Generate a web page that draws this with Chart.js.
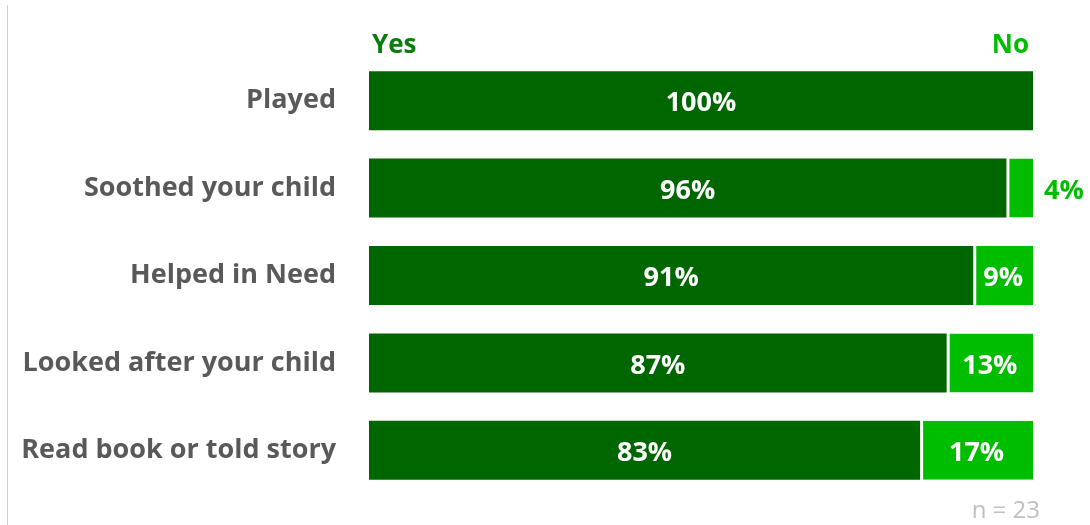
<!DOCTYPE html>
<html>
<head>
<meta charset="utf-8">
<script src="https://cdn.jsdelivr.net/npm/chart.js@4/dist/chart.umd.min.js"></script>
<style>
  html, body { margin: 0; padding: 0; background: #fff; }
  #wrap { position: relative; width: 1090px; height: 525px; }
  #chart { display: block; }
  #leftRule { position: absolute; left: 7px; top: 5px; width: 1px; height: 520px; background: #d0d0d0; }
</style>
</head>
<body>
<div id="wrap">
  <div id="leftRule"></div>
  <canvas id="chart" width="1090" height="525"></canvas>
</div>
<script>
// Chart data
const categories = ['Played', 'Soothed your child', 'Helped in Need', 'Looked after your child', 'Read book or told story'];
const yesValues = [100, 96, 91, 87, 83];
const noValues = [0, 4, 9, 13, 17];
const seriesNames = ['Yes', 'No'];
const sampleNote = 'n = 23';

const colors = {
  yes: '#006600',
  no: '#00bd00',
  yesHeader: '#0b7d0b',
  label: '#595959',
  note: '#bfbfbf'
};
const fontFamily = '"Open Sans", Lato, sans-serif';

// draws percentages on the bars plus the Yes / No headers and the n note
const labelsPlugin = {
  id: 'barLabels',
  afterDatasetsDraw(chart) {
    const { ctx, chartArea } = chart;
    ctx.save();
    ctx.font = 'bold 27px ' + fontFamily;
    ctx.textBaseline = 'middle';
    chart.data.datasets.forEach((ds, di) => {
      const meta = chart.getDatasetMeta(di);
      meta.data.forEach((bar, i) => {
        const v = ds.data[i];
        if (!v) return;
        const w = Math.abs(bar.x - bar.base);
        const text = v + '%';
        if (w < 40) {
          ctx.fillStyle = colors.no;
          ctx.textAlign = 'left';
          ctx.fillText(text, bar.x + 11, bar.y + 3);
        } else {
          ctx.fillStyle = '#ffffff';
          ctx.textAlign = 'center';
          ctx.fillText(text, (bar.x + bar.base) / 2, bar.y + 3);
        }
      });
    });

    ctx.font = 'bold 26px ' + fontFamily;
    ctx.textBaseline = 'alphabetic';
    ctx.fillStyle = colors.yesHeader;
    ctx.textAlign = 'left';
    ctx.fillText(seriesNames[0], chartArea.left + 3, 53);
    ctx.fillStyle = colors.no;
    ctx.textAlign = 'right';
    ctx.fillText(seriesNames[1], chartArea.right - 4, 53);

    ctx.font = '24px ' + fontFamily;
    ctx.fillStyle = colors.note;
    ctx.textAlign = 'right';
    ctx.fillText(sampleNote, chartArea.right + 7, 518);
    ctx.restore();
  }
};

new Chart(document.getElementById('chart'), {
  type: 'bar',
  data: {
    labels: categories,
    datasets: [
      {
        label: seriesNames[0],
        data: yesValues,
        backgroundColor: colors.yes,
        borderWidth: 0,
        barPercentage: 0.675,
        categoryPercentage: 1
      },
      {
        label: seriesNames[1],
        data: noValues,
        backgroundColor: colors.no,
        borderColor: '#ffffff',
        borderWidth: { left: 3 },
        borderSkipped: false,
        barPercentage: 0.675,
        categoryPercentage: 1
      }
    ]
  },
  options: {
    indexAxis: 'y',
    responsive: false,
    animation: false,
    layout: {
      padding: { top: 57, right: 57, bottom: 31, left: 0 }
    },
    plugins: {
      legend: { display: false },
      title: { display: false },
      tooltip: { enabled: false }
    },
    scales: {
      x: {
        stacked: true,
        min: 0,
        max: 100,
        display: false
      },
      y: {
        stacked: true,
        grid: { display: false, drawTicks: false },
        border: { display: false },
        ticks: {
          color: colors.label,
          font: { family: fontFamily, size: 27, weight: 'bold' },
          padding: 33
        },
        afterFit(scale) {
          scale.width = 369;
          // tick padding would otherwise be added to the vertical padding
          scale.paddingTop = 0;
          scale.paddingBottom = 0;
        }
      }
    }
  },
  plugins: [labelsPlugin]
});
</script>
</body>
</html>
